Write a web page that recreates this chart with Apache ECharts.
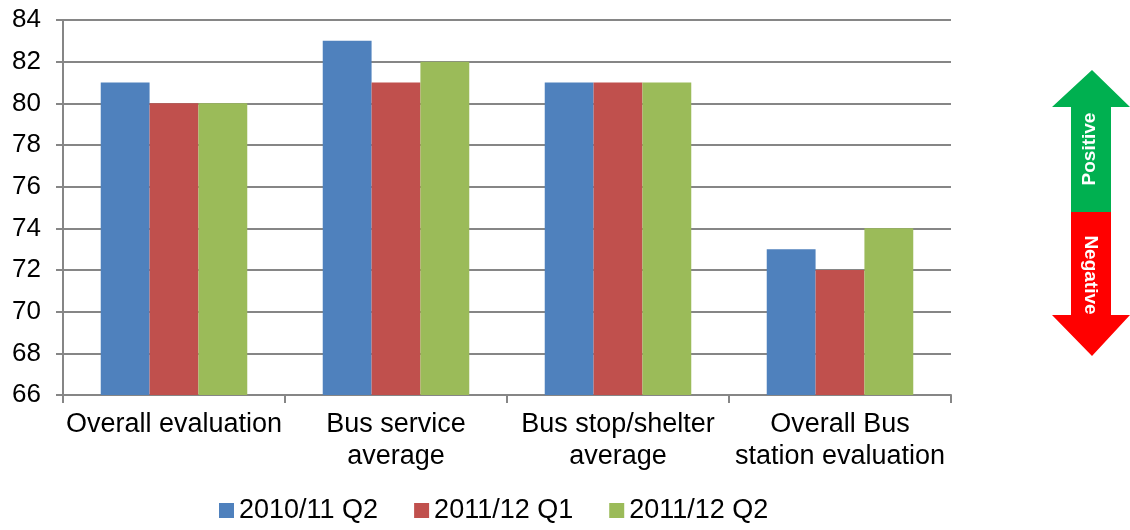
<!DOCTYPE html>
<html>
<head>
<meta charset="utf-8">
<script src="https://cdn.jsdelivr.net/npm/echarts@6/dist/echarts.min.js"></script>
<style>
  html, body { margin: 0; padding: 0; background: #fff; }
  #main { width: 1130px; height: 530px; }
</style>
</head>
<body>
<div id="main"></div>
<script>
var categories = ['Overall evaluation', 'Bus service\naverage', 'Bus stop/shelter\naverage', 'Overall Bus\nstation evaluation'];
var seriesNames = ['2010/11 Q2', '2011/12 Q1', '2011/12 Q2'];
var q2_2010 = [81, 83, 81, 73];
var q1_2011 = [80, 81, 81, 72];
var q2_2011 = [80, 82, 81, 74];

var chart = echarts.init(document.getElementById('main'));
var font = 'Liberation Sans, Arial, sans-serif';

var option = {
  animation: false,
  color: ['#4F81BD', '#C0504D', '#9BBB59'],
  textStyle: { fontFamily: font },
  grid: { left: 63, right: 179, top: 20, bottom: 135 },
  legend: {
    data: seriesNames,
    bottom: 1,
    left: 214,
    icon: 'rect',
    itemWidth: 15,
    itemHeight: 15,
    itemGap: 36,
    textStyle: { fontSize: 27, color: '#000', fontFamily: font }
  },
  xAxis: {
    type: 'category',
    data: categories,
    axisLine: { lineStyle: { color: '#868686', width: 2 } },
    axisTick: { show: true, length: 8, lineStyle: { color: '#868686', width: 2 } },
    axisLabel: { color: '#000', fontSize: 27, lineHeight: 32, margin: 14, interval: 0 }
  },
  yAxis: {
    type: 'value',
    min: 66,
    max: 84,
    interval: 2,
    axisLine: { show: true, lineStyle: { color: '#868686', width: 2 } },
    axisTick: { show: true, length: 7, lineStyle: { color: '#868686', width: 2 } },
    axisLabel: { color: '#000', fontSize: 26, margin: 22 },
    splitLine: { lineStyle: { color: '#868686', width: 2 } }
  },
  series: [
    { name: seriesNames[0], type: 'bar', data: q2_2010, barGap: '0%', barCategoryGap: '34%' },
    { name: seriesNames[1], type: 'bar', data: q1_2011, barGap: '0%', barCategoryGap: '34%' },
    { name: seriesNames[2], type: 'bar', data: q2_2011, barGap: '0%', barCategoryGap: '34%' }
  ],
  graphic: [
    {
      type: 'polygon',
      shape: { points: [[1092, 70], [1130, 107], [1111, 107], [1111, 212], [1071, 212], [1071, 107], [1052, 107]] },
      style: { fill: '#00B050' }
    },
    {
      type: 'polygon',
      shape: { points: [[1071, 212], [1111, 212], [1111, 315], [1130, 315], [1092, 356], [1052, 315], [1071, 315]] },
      style: { fill: '#FF0000' }
    },
    {
      type: 'text',
      x: 1090, y: 149, rotation: Math.PI / 2,
      style: { text: 'Positive', fill: '#fff', font: 'bold 19px ' + font, align: 'center', verticalAlign: 'middle' }
    },
    {
      type: 'text',
      x: 1090, y: 275, rotation: -Math.PI / 2,
      style: { text: 'Negative', fill: '#fff', font: 'bold 19px ' + font, align: 'center', verticalAlign: 'middle' }
    }
  ]
};
chart.setOption(option);
</script>
</body>
</html>
